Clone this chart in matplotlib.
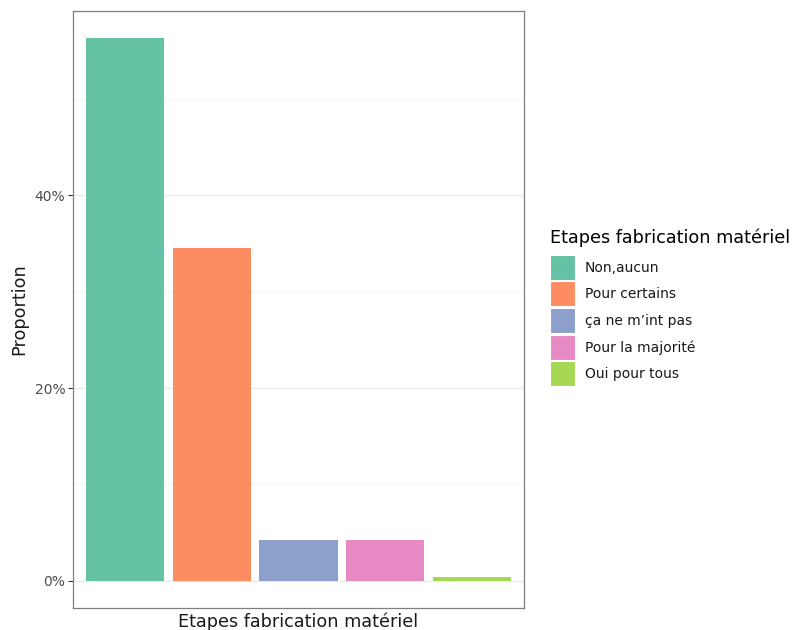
import matplotlib
matplotlib.use("Agg")
import matplotlib.pyplot as plt
from matplotlib.patches import Patch
from matplotlib.ticker import FuncFormatter, MultipleLocator

categories = ["Non,aucun", "Pour certains", "ça ne m’int pas", "Pour la majorité", "Oui pour tous"]
proportions = [56.3, 34.5, 4.26, 4.26, 0.43]
colors = ["#66c2a5", "#fc8d62", "#8da0cb", "#e78ac3", "#a6d854"]

plt.rcParams['font.family'] = ['DejaVu Sans']

fig = plt.figure(figsize=(7.95, 6.3), dpi=100)
ax = fig.add_axes([73/795, 1-608/630, (524-73)/795, (608-11)/630])

x = list(range(len(categories)))
ax.bar(x, proportions, width=0.9, color=colors, zorder=3)

ax.set_xlim(-0.6, len(categories) - 0.4)
ymax = max(proportions)
ax.set_ylim(-0.05 * ymax, ymax * 1.05)
ax.yaxis.set_major_locator(MultipleLocator(20))
ax.yaxis.set_minor_locator(MultipleLocator(10))
ax.yaxis.set_major_formatter(FuncFormatter(lambda v, p: f"{v:.0f}%"))
ax.set_xticks([])
ax.grid(axis='y', which='major', color='#ebebeb', linewidth=0.9, zorder=0)
ax.grid(axis='y', which='minor', color='#f3f3f3', linewidth=0.6, zorder=0)
ax.tick_params(axis='y', which='major', colors='#333333', labelcolor='#4d4d4d',
               labelsize=10, length=3.5, width=0.8, pad=2)
ax.tick_params(axis='y', which='minor', length=0)
for s in ax.spines.values():
    s.set_color('#7f7f7f')
    s.set_linewidth(0.9)

ax.set_xlabel("Etapes fabrication matériel", fontsize=12.7, color='#1a1a1a', labelpad=3)
ax.set_ylabel("Proportion", fontsize=12.7, color='#1a1a1a', labelpad=5)

handles = [Patch(facecolor=c, edgecolor='white', linewidth=0.8) for c in colors]
leg = fig.legend(handles, categories, title="Etapes fabrication matériel",
                 loc='upper left', bbox_to_anchor=(550/795, 1-228/630),
                 frameon=False, fontsize=10, title_fontsize=12.7,
                 handlelength=1.8, handleheight=2.39, labelspacing=0.12,
                 handletextpad=0.7, borderaxespad=0, borderpad=0)
leg._legend_box.align = "left"
leg._legend_box.sep = 6
for t in leg.get_texts():
    t.set_color('#1a1a1a')

fig.savefig("out.png", dpi=100)
